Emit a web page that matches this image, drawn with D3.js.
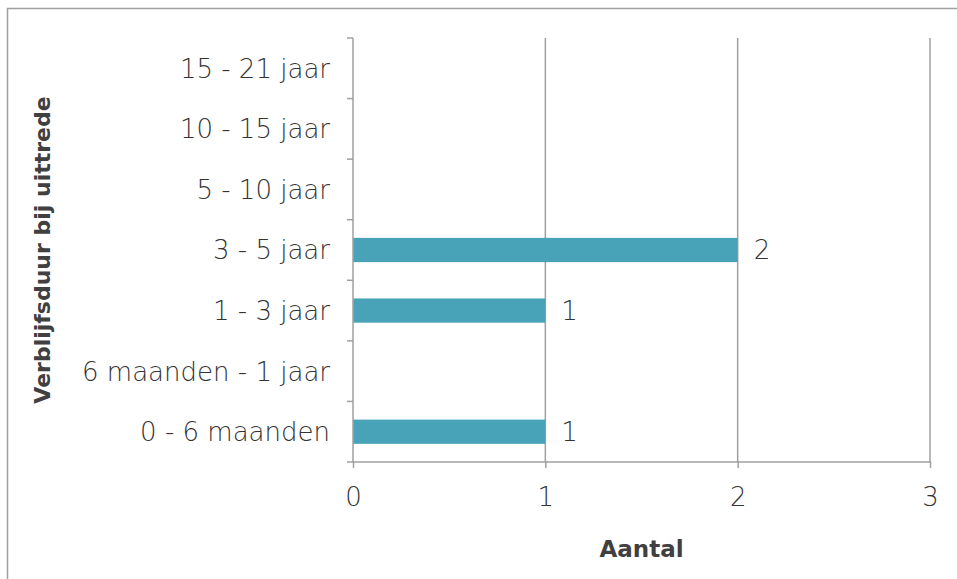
<!DOCTYPE html>
<html><head><meta charset="utf-8">
<script src="https://cdn.jsdelivr.net/npm/d3@7"></script>
<style>
body{margin:0;background:#fff;}
svg{display:block;}
text{font-family:"DejaVu Sans",sans-serif;fill:#404040;}
</style></head>
<body>
<svg id="c" width="957" height="579"></svg>
<script>
const categories = ["0 - 6 maanden","6 maanden - 1 jaar","1 - 3 jaar","3 - 5 jaar","5 - 10 jaar","10 - 15 jaar","15 - 21 jaar"];
const values = [1, 0, 1, 2, 0, 0, 0];
const xTicks = [0, 1, 2, 3];
const xTitle = "Aantal";
const yTitle = "Verblijfsduur bij uittrede";

const svg = d3.select("#c");
const W = 957, H = 579;
const m = {left:353, right:27, top:38, bottom:117};
const lab = {size:"26px", weight:"200", fill:"#333333"};

// outer border (top + left visible)
svg.append("rect").attr("x",7.5).attr("y",8.5).attr("width",W+10).attr("height",H+10)
  .attr("fill","none").attr("stroke","#a0a0a0").attr("stroke-width",1.5);

const x = d3.scaleLinear().domain([0,3]).range([m.left, W-m.right]);
const y = d3.scaleBand().domain(categories.slice().reverse()).range([m.top, H-m.bottom]).paddingInner(0.6).paddingOuter(0.3);

const g = svg.append("g");
g.selectAll("line.grid").data(xTicks.slice(1)).join("line")
  .attr("x1",d=>x(d)).attr("x2",d=>x(d)).attr("y1",m.top).attr("y2",H-m.bottom)
  .attr("stroke","#a0a0a0").attr("stroke-width",1.5);

const rows = categories.map((c,i)=>({c,v:values[i]})).filter(d=>d.v>0);
g.selectAll("rect.bar").data(rows).join("rect")
  .attr("x",x(0)).attr("y",d=>y(d.c)).attr("width",d=>x(d.v)-x(0)).attr("height",y.bandwidth())
  .attr("fill","#48A2B8");

g.selectAll("text.val").data(rows).join("text")
  .attr("x",d=>x(d.v)+16).attr("y",d=>y(d.c)+y.bandwidth()/2).attr("dy","0.36em")
  .style("font-size",lab.size).style("font-weight",lab.weight).style("fill",lab.fill).text(d=>d.v);

const xa = svg.append("g").attr("transform",`translate(0,${H-m.bottom})`)
  .call(d3.axisBottom(x).tickValues(xTicks).tickSize(6).tickPadding(20).tickFormat(d3.format("d")));
xa.select(".domain").attr("stroke","#a0a0a0").attr("stroke-width",1.5).attr("d",`M${m.left-6},0H${W-m.right}`);
xa.selectAll(".tick line").attr("stroke","#a0a0a0").attr("stroke-width",1.5).attr("y1",-1);
xa.selectAll(".tick text").style("font-size",lab.size).style("font-weight",lab.weight)
  .style("font-family",'"DejaVu Sans",sans-serif').style("fill",lab.fill);

const bounds = d3.range(categories.length+1).map(i=>m.top + i*(H-m.bottom-m.top)/categories.length);
svg.append("line").attr("x1",m.left).attr("x2",m.left).attr("y1",m.top).attr("y2",H-m.bottom)
  .attr("stroke","#a0a0a0").attr("stroke-width",1.5);
svg.selectAll("line.yt").data(bounds.slice(0,-1)).join("line")
  .attr("x1",m.left-6).attr("x2",m.left).attr("y1",d=>d).attr("y2",d=>d)
  .attr("stroke","#a0a0a0").attr("stroke-width",1.5);
svg.selectAll("text.cat").data(categories).join("text")
  .attr("x",m.left-23).attr("y",d=>y(d)+y.bandwidth()/2).attr("dy","0.36em")
  .attr("text-anchor","end").style("font-size",lab.size).style("font-weight",lab.weight)
  .style("fill",lab.fill).text(d=>d);

svg.append("text").attr("x",(m.left+W-m.right)/2).attr("y",557)
  .attr("text-anchor","middle").style("font-size","23px").style("font-weight","bold").text(xTitle);
svg.append("text").attr("transform",`translate(50,${(m.top+H-m.bottom)/2}) rotate(-90)`)
  .attr("text-anchor","middle").style("font-size","22px").style("font-weight","bold").text(yTitle);
</script>
</body></html>
